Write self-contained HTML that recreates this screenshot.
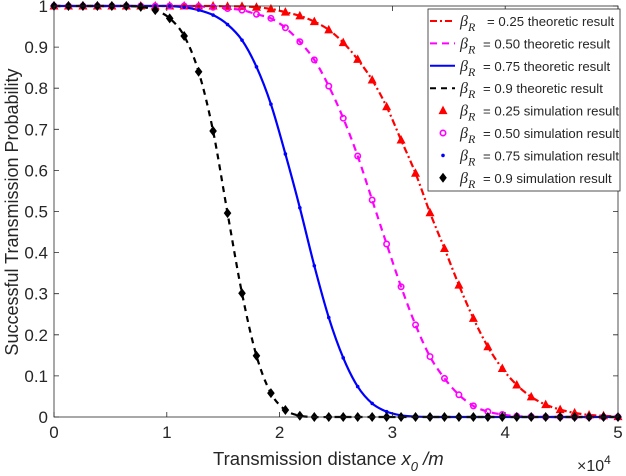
<!DOCTYPE html>
<html><head><meta charset="utf-8"><style>
body{margin:0;background:#fff}
svg{display:block;font-family:"Liberation Sans",Arial,sans-serif}
</style></head><body>
<svg id="chart" width="626" height="476" viewBox="0 0 626 476">
<g id="grid"></g>
<g id="series"></g>
<g id="axes"></g>
<g id="legend"></g>
</svg>
<script>
const xValues = Array.from({length:40},(_, i)=>i*5/39); // x in units of 1e4 m (linspace 0..5, 40 samples)
const seriesBlack = [1,1,1,1,1,1,0.998,0.99,0.97,0.927,0.84,0.696,0.496,0.301,0.149,0.058,0.017,0.003,0,0,0,0,0,0,0,0,0,0,0,0,0,0,0,0,0,0,0,0,0,0];
const seriesBlue = [1,1,1,1,1,1,1,1,1,0.997,0.99,0.978,0.955,0.917,0.852,0.761,0.64,0.509,0.368,0.242,0.144,0.074,0.033,0.013,0.004,0.001,0,0,0,0,0,0,0,0,0,0,0,0,0,0];
const seriesMagenta = [1,1,1,1,1,1,1,1,1,1,0.999,0.997,0.994,0.99,0.98,0.97,0.947,0.913,0.869,0.805,0.727,0.635,0.528,0.421,0.317,0.224,0.147,0.094,0.054,0.027,0.013,0.006,0.002,0.001,0,0,0,0,0,0];
const seriesRed = [1,1,1,1,1,1,1,1,1,1,1,1,0.999,0.999,0.997,0.993,0.985,0.976,0.962,0.942,0.911,0.87,0.82,0.755,0.674,0.593,0.497,0.41,0.321,0.24,0.171,0.118,0.078,0.049,0.03,0.018,0.01,0.005,0.003,0.001];
const xTicks = [0,1,2,3,4,5];
const yTicks = [0,0.1,0.2,0.3,0.4,0.5,0.6,0.7,0.8,0.9,1];
const legendLabels = ["= 0.25 theoretic result","= 0.50 theoretic result","= 0.75 theoretic result","= 0.9 theoretic result","= 0.25 simulation result","= 0.50 simulation result","= 0.75 simulation result","= 0.9 simulation result"];

const NS="http://www.w3.org/2000/svg";
const L=54,R=618,T=6,B=417;
const sx=v=>L+(v-0)/(5-0)*(R-L);
const sy=v=>B-(v-0)/(1-0)*(B-T);
function mk(tag,attrs,parent){const e=document.createElementNS(NS,tag);for(const k in attrs)e.setAttribute(k,attrs[k]);parent.appendChild(e);return e;}
const axes=document.getElementById('axes'),series=document.getElementById('series'),legend=document.getElementById('legend');

const box=mk('rect',{x:L,y:T,width:R-L,height:B-T,fill:'none',stroke:'#262626','stroke-width':0.8},axes);


xTicks.forEach(t=>{
  const x=sx(t);
  const tk=mk('path',{d:`M${x},${B}v-5M${x},${T}v5`,stroke:'#262626','stroke-width':0.8},axes);
  
  
  const tx=mk('text',{x:x,y:B+21,'text-anchor':'middle','font-size':17,fill:'#262626'},axes);
  tx.textContent=String(t);
  
  
});
yTicks.forEach(t=>{
  const y=sy(t);
  const tk=mk('path',{d:`M${L},${y}h5M${R},${y}h-5`,stroke:'#262626','stroke-width':0.8},axes);
  
  
  const tx=mk('text',{x:L-6,y:y+6,'text-anchor':'end','font-size':17,fill:'#262626'},axes);
  tx.textContent=String(t);
  
  
});
const xt=mk('text',{x:213,y:465,'font-size':18.5,fill:'#262626'},axes);
xt.innerHTML='Transmission distance <tspan font-style="italic">x</tspan><tspan font-style="italic" font-size="13" dy="6">0</tspan><tspan dy="-6" font-style="italic">  /m</tspan>';


const ex=mk('text',{x:577,y:471,'font-size':16,fill:'#262626'},axes);
ex.innerHTML='×10<tspan font-size="12" dy="-7">4</tspan>';


const yt=mk('text',{x:0,y:0,'font-size':18,fill:'#262626','text-anchor':'middle',transform:'translate(18,212) rotate(-90)'},axes);
yt.textContent='Successful Transmission Probability';



function smoothPath(vals){
  const p=vals.map((v,i)=>[sx(xValues[i]),sy(v)]);
  let d=`M${p[0][0]},${p[0][1]}`;
  for(let i=0;i<p.length-1;i++){
    const p0=p[Math.max(0,i-1)],p1=p[i],p2=p[i+1],p3=p[Math.min(p.length-1,i+2)];
    const c1=[p1[0]+(p2[0]-p0[0])/6,p1[1]+(p2[1]-p0[1])/6];
    const c2=[p2[0]-(p3[0]-p1[0])/6,p2[1]-(p3[1]-p1[1])/6];
    d+=`C${c1[0]},${c1[1]} ${c2[0]},${c2[1]} ${p2[0]},${p2[1]}`;
  }
  return d;
}
const cfg=[
  {vals:seriesRed,color:'#ff0000',dash:'7,3,2,3',name:'red'},
  {vals:seriesMagenta,color:'#ff00ff',dash:'7,5',name:'magenta'},
  {vals:seriesBlue,color:'#0000ff',dash:'none',name:'blue'},
  {vals:seriesBlack,color:'#000000',dash:'6,5',name:'black'}
];
function marker(kind,x,y,parent){
  let e;
  if(kind==='red') e=mk('path',{d:`M${x},${y-5}L${x+4.5},${y+3.5}L${x-4.5},${y+3.5}Z`,fill:'#ff0000'},parent);
  else if(kind==='magenta') e=mk('circle',{cx:x,cy:y,r:2.7,fill:'none',stroke:'#ff00ff','stroke-width':1.6},parent);
  else if(kind==='blue') e=mk('circle',{cx:x,cy:y,r:1.8,fill:'#0000ff'},parent);
  else e=mk('path',{d:`M${x},${y-5}L${x+3.8},${y}L${x},${y+5}L${x-3.8},${y}Z`,fill:'#000'},parent);
  return e;
}
cfg.forEach(c=>{
  const line=mk('path',{d:smoothPath(c.vals),fill:'none',stroke:c.color,'stroke-width':2.2,'stroke-dasharray':c.dash},series);
  
  
});
cfg.forEach(c=>{
  c.vals.forEach((v,i)=>{
    const m=marker(c.name,sx(xValues[i]),sy(v),series);
    
    
  });
});

const lb=mk('rect',{x:428,y:9,width:192,height:182,fill:'#fff',stroke:'#262626','stroke-width':0.8},legend);


legendLabels.forEach((lab,i)=>{
  const y=21+i*22.4;
  const g=mk('g',{},legend);
  
  
  const c=cfg[i%4];
  if(i<4) mk('path',{d:`M430,${y}H455`,stroke:c.color,'stroke-width':2,'stroke-dasharray':c.dash,fill:'none'},g);
  else marker(c.name,443,y,g);
  const b=mk('text',{x:460,y:y+5,'font-size':16,'font-family':'"Liberation Serif",serif','font-style':'italic',fill:'#262626'},g);
  b.innerHTML='β<tspan font-size="12" dy="5">R</tspan>';
  const t=mk('text',{x:i===0?487:483,y:y+5,'font-size':13.2,fill:'#262626'},g);
  t.textContent=lab;
});
</script>
</body></html>
